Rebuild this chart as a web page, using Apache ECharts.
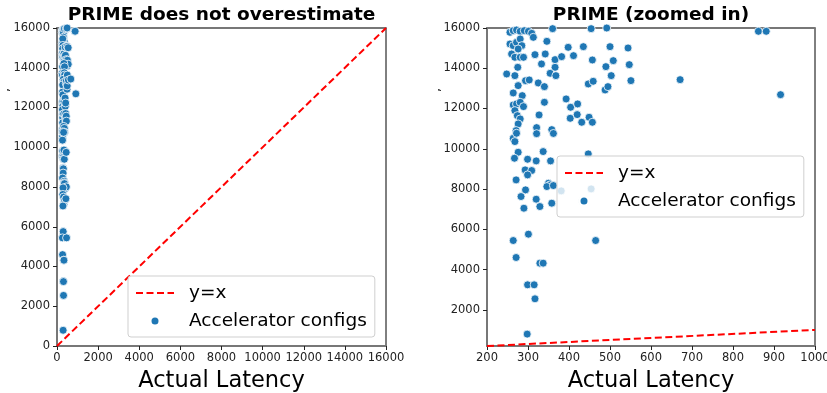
<!DOCTYPE html>
<html>
<head>
<meta charset="utf-8">
<script src="https://cdn.jsdelivr.net/npm/echarts@6/dist/echarts.min.js"></script>
<style>
html,body{margin:0;padding:0;background:#fff;}
#chart{width:827px;height:393px;}
</style>
</head>
<body>
<div id="chart"></div>
<script>
// Actual latency (x) of each accelerator config
var actualLatency = [
  256,264,272,281,291,301,309,313,360,454,492,346,256,264,272,281,285,276,260,268,
  281,289,275,248,268,317,342,366,382,411,435,398,457,490,500,544,508,547,333,366,
  354,368,294,303,325,340,276,264,286,447,459,488,495,503,551,264,272,281,289,268,
  274,281,276,271,340,327,393,404,421,403,420,431,449,457,321,358,362,264,272,268,
  321,276,267,299,320,337,355,447,293,309,299,271,350,354,346,362,381,454,294,283,
  320,358,329,290,433,301,264,465,271,329,337,299,315,317,298,862,881,916,671
];
// Predicted latency (y) of each accelerator config
var predictedLatency = [
  15785,15868,15901,15835,15868,15835,15735,15537,15967,15967,16000,15338,15206,15123,15288,15454,15123,14957,14709,14544,
  14544,14544,14047,13716,13633,14676,14709,14428,14577,14626,15073,15040,14411,14080,15073,15007,14378,14180,14213,14047,
  13749,13633,13385,13418,13269,13087,13137,12773,12640,13220,13352,12922,13087,13633,13385,12177,12227,12309,12094,11896,
  11647,11482,11234,10903,12309,11681,12475,12061,12227,11515,11697,11316,11565,11316,11050,10950,10760,10522,10770,10357,
  10750,9827,9529,9479,9397,9860,9397,9744,8950,8917,8701,8453,8288,8205,8122,8172,7907,8006,7957,7626,
  7493,7295,7129,7046,7410,5756,5441,5441,4597,4316,4316,3240,3240,2545,791,15836,15836,12688,13433
];
// y = x reference line endpoints
var identityFull = [0, 16000];
var identityZoom = [200, 1000];
// tick labels
var leftTicks = [0,2000,4000,6000,8000,10000,12000,14000,16000];
var rightYTicks = [2000,4000,6000,8000,10000,12000,14000,16000];
var titles = ['PRIME does not overestimate', 'PRIME (zoomed in)'];
var xName = 'Actual Latency';
var seriesNames = ['y=x', 'Accelerator configs'];

var points = actualLatency.map(function(x, i){ return [x, predictedLatency[i]]; });
var FONT = 'DejaVu Sans';
var BLUE = '#1f77b4';
function plain(v){ return String(v); }

function xAxisCfg(gi, min, max, interval){
  return {
    type:'value', gridIndex:gi, min:min, max:max, interval:interval,
    name:xName, nameLocation:'middle', nameGap:23.5,
    nameTextStyle:{fontFamily:FONT, fontSize:22.5, color:'#000'},
    axisLine:{show:true, onZero:false, lineStyle:{color:'#777', width:2}},
    axisTick:{show:true, length:4, lineStyle:{color:'#222', width:1}},
    axisLabel:{fontFamily:FONT, fontSize:11.5, color:'#222', margin:6, formatter:plain},
    splitLine:{show:false}
  };
}
function topAxis(gi, min, max){
  return {
    type:'value', gridIndex:gi, position:'top', min:min, max:max,
    axisLine:{show:true, onZero:false, lineStyle:{color:'#777', width:2}},
    axisTick:{show:false}, axisLabel:{show:false}, splitLine:{show:false}
  };
}
function legendCfg(left, top){
  return {
    orient:'vertical', left:left, top:top,
    data:[
      {name:seriesNames[0], itemStyle:{opacity:0}},
      {name:seriesNames[1]}
    ],
    itemWidth:38, itemHeight:9, itemGap:6,
    padding:[6,8,5,7],
    backgroundColor:'rgba(255,255,255,0.8)',
    borderColor:'#cfcfcf', borderWidth:1, borderRadius:3,
    textStyle:{fontFamily:FONT, fontSize:18.5, color:'#000', lineHeight:22, padding:[0,0,0,10]}
  };
}

var chart = echarts.init(document.getElementById('chart'), null, {renderer:'canvas'});
chart.setOption({
  animation:false,
  backgroundColor:'#fff',
  grid:[
    {left:57, top:28, width:329, height:318, show:true, borderColor:'#000', borderWidth:1, containLabel:false, outerBoundsMode:'none'},
    {left:487, top:28, width:328, height:318, show:true, borderColor:'#000', borderWidth:1, containLabel:false, outerBoundsMode:'none'}
  ],
  xAxis:[
    xAxisCfg(0, 0, 16000, 2000),
    xAxisCfg(1, 200, 1000, 100),
    topAxis(0, 0, 16000),
    topAxis(1, 200, 1000)
  ],
  yAxis:[
    {
      type:'value', gridIndex:0, min:0, max:16000, interval:2000,
      axisLine:{show:true, onZero:false, lineStyle:{color:'#777', width:2}},
      axisTick:{show:true, length:4, lineStyle:{color:'#222', width:1}},
      axisLabel:{fontFamily:FONT, fontSize:11.5, color:'#222', margin:7, formatter:plain},
      splitLine:{show:false}
    },
    {
      type:'value', gridIndex:1, min:200, max:16000,
      axisLine:{show:true, onZero:false, lineStyle:{color:'#777', width:2}},
      axisTick:{show:true, length:4, customValues:rightYTicks, lineStyle:{color:'#222', width:1}},
      axisLabel:{fontFamily:FONT, fontSize:11.5, color:'#222', margin:7, customValues:rightYTicks, formatter:plain},
      splitLine:{show:false}
    }
  ],
  legend:[ legendCfg(128, 276), legendCfg(557, 156) ],
  series:[
    {
      name:seriesNames[0], type:'line', xAxisIndex:0, yAxisIndex:0,
      data:[[identityFull[0], identityFull[0]], [identityFull[1], identityFull[1]]],
      symbol:'none', showSymbol:false, color:'red', itemStyle:{opacity:0},
      lineStyle:{color:'red', width:2, type:[7,3.5]}, z:2
    },
    {
      name:seriesNames[1], type:'scatter', xAxisIndex:0, yAxisIndex:0,
      data:points, symbolSize:8, color:BLUE,
      itemStyle:{color:BLUE, borderColor:'#fff', borderWidth:0.8, opacity:1}, z:3
    },
    {
      name:seriesNames[0], type:'line', xAxisIndex:1, yAxisIndex:1,
      data:[[identityZoom[0], identityZoom[0]], [identityZoom[1], identityZoom[1]]],
      symbol:'none', showSymbol:false, color:'red', itemStyle:{opacity:0},
      lineStyle:{color:'red', width:2, type:[7,3.5]}, z:2
    },
    {
      name:seriesNames[1], type:'scatter', xAxisIndex:1, yAxisIndex:1,
      data:points, symbolSize:8, color:BLUE,
      itemStyle:{color:BLUE, borderColor:'#fff', borderWidth:0.8, opacity:1}, z:3
    }
  ],
  graphic:[
    {type:'text', x:221.5, y:15, style:{text:titles[0], fontFamily:FONT, fontWeight:'bold', fontSize:18.5, fill:'#000', textAlign:'center', textVerticalAlign:'middle'}},
    {type:'text', x:651, y:15, style:{text:titles[1], fontFamily:FONT, fontWeight:'bold', fontSize:18.5, fill:'#000', textAlign:'center', textVerticalAlign:'middle'}},
    {type:'text', x:6, y:90, rotation:Math.PI/2, style:{text:',', fontFamily:FONT, fontSize:13, fill:'#000', textAlign:'center', textVerticalAlign:'middle'}},
    {type:'text', x:437, y:90, rotation:Math.PI/2, style:{text:',', fontFamily:FONT, fontSize:13, fill:'#000', textAlign:'center', textVerticalAlign:'middle'}}
  ]
});
</script>
</body>
</html>
